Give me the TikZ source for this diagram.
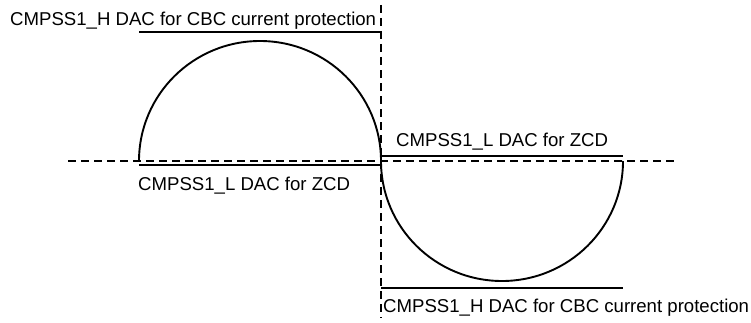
\documentclass[tikz,border=0pt]{standalone}
\usepackage{fontspec}
\setmainfont{Liberation Sans}
\begin{document}
\begin{tikzpicture}[x=1pt,y=1pt,
  solidline/.style={line width=1.9pt},
  dashline/.style={line width=1.3pt, dash pattern=on 8pt off 5pt},
  lbl/.style={anchor=base west, inner sep=0pt, font=\fontsize{18.6}{22}\selectfont}]
\useasboundingbox (0,0) rectangle (751,322);
% coordinates
\coordinate (vtop) at (381,317);
\coordinate (vbot) at (381,4);
\coordinate (hleft) at (68,161);
\coordinate (hright) at (677,161);
\coordinate (tl1) at (139,290); \coordinate (tl2) at (381,290);
\coordinate (zl1) at (139,157); \coordinate (zl2) at (381,157);
\coordinate (zr1) at (381,166); \coordinate (zr2) at (623,166);
\coordinate (bl1) at (381,34);  \coordinate (bl2) at (623,34);
\coordinate (a1) at (139,161);
\coordinate (a2) at (381,161);
% dashed axes
\draw[dashline] (vtop) -- (vbot);
\draw[dashline] (hleft) -- (hright);
% level lines
\draw[solidline] (tl1) -- (tl2);
\draw[solidline] (zl1) -- (zl2);
\draw[solidline] (zr1) -- (zr2);
\draw[solidline] (bl1) -- (bl2);
% half waves
\draw[solidline] (a1) arc[start angle=180, end angle=0, x radius=121, y radius=120];
\draw[solidline] (a2) arc[start angle=180, end angle=360, x radius=121, y radius=120];
% labels
\node[lbl] (t1) at (10,296) {CMPSS1\_H DAC for CBC current protection};
\node[lbl] (t2) at (138,132) {CMPSS1\_L DAC for ZCD};
\node[lbl] (t3) at (396,176) {CMPSS1\_L DAC for ZCD};
\node[lbl] (t4) at (383,10) {CMPSS1\_H DAC for CBC current protection};
\end{tikzpicture}
\end{document}
